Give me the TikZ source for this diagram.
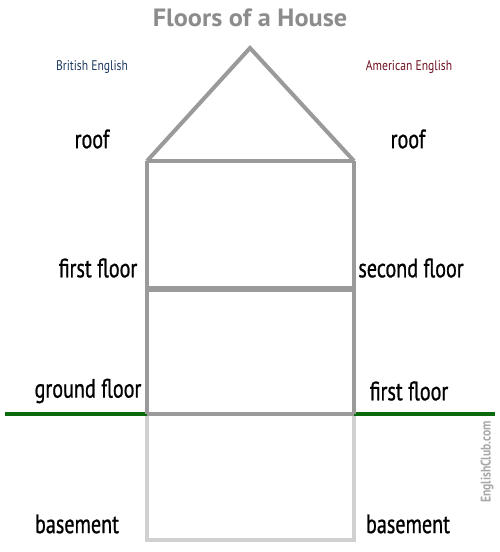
\documentclass[tikz,border=0pt]{standalone}
\usepackage{fontspec}
\setmainfont{PT Sans}[FakeStretch=0.85]
\newfontfamily\lblfont{PT Sans}[FakeStretch=0.76, FakeBold=0.8]
\newfontfamily\hdrfont{PT Sans}[FakeStretch=0.83]
\newfontfamily\titlefont{PT Sans}[FakeStretch=1.05]
\definecolor{wallgray}{HTML}{9A9A9A}
\definecolor{lightwall}{HTML}{D0D0D0}
\definecolor{groundgreen}{HTML}{0B6A0B}
\definecolor{brblue}{HTML}{1E3A5F}
\definecolor{amred}{HTML}{6E1020}
\definecolor{titlegray}{HTML}{8C8C8C}
\definecolor{markgray}{HTML}{A8A8A8}
\tikzset{
  lbl/.style={font=\lblfont\fontsize{26.5}{29}\selectfont, text=black, inner sep=0pt},
  hdr/.style={font=\hdrfont\fontsize{14}{16}\selectfont, inner sep=0pt},
  wall/.style={draw=wallgray, line width=4pt},
}
\begin{document}
\begin{tikzpicture}[x=1pt,y=-1pt]
\useasboundingbox (0,0) rectangle (500,552);
% title
\node[font=\titlefont\bfseries\fontsize{25}{27}\selectfont, text=titlegray, inner sep=0pt] (title) at (250,18) {Floors of a House};
\node[hdr, text=brblue] (br) at (92,67) {British English};
\node[hdr, text=amred] (am) at (409,67) {American English};
% coordinates
\coordinate (apex) at (250,48);
\coordinate (tl) at (147,161);
\coordinate (tr) at (354,161);
\coordinate (ml) at (147,289);
\coordinate (mr) at (354,289);
\coordinate (gl) at (147,414);
\coordinate (gr) at (354,414);
\coordinate (bl) at (147,540);
\coordinate (br2) at (354,540);
\coordinate (gw) at (5,414);
\coordinate (ge) at (495,414);
% below ground
\draw[draw=lightwall, line width=4pt] (gl) -- (bl) -- (br2) -- (gr);
% ground
\draw[draw=groundgreen, line width=4pt] (gw) -- (gl);
\draw[draw=groundgreen, line width=4pt] (gr) -- (ge);
% house
\draw[wall, line join=miter] (tl) -- (apex) -- (tr);
\draw[wall] (tl) -- (tr);
\draw[wall] (tl) -- (gl);
\draw[wall] (tr) -- (gr);
\draw[draw=wallgray, line width=5.5pt] (ml) -- (mr);
\draw[wall] (gl) -- (gr);
% labels
\node[lbl] (roofL) at (92,139) {roof};
\node[lbl] (roofR) at (408,139) {roof};
\node[lbl] (ffL) at (98,268) {first floor};
\node[lbl] (sfR) at (411,268) {second floor};
\node[lbl] (gfL) at (88,391) {ground floor};
\node[lbl] (ffR) at (409,391) {first floor};
\node[lbl] (bsL) at (77,524) {basement};
\node[lbl] (bsR) at (408,524) {basement};
\node[font=\hdrfont\fontsize{14}{16}\selectfont\bfseries, text=markgray, rotate=90, inner sep=0pt] (ec) at (487,462) {EnglishClub.com};
\end{tikzpicture}
\end{document}
